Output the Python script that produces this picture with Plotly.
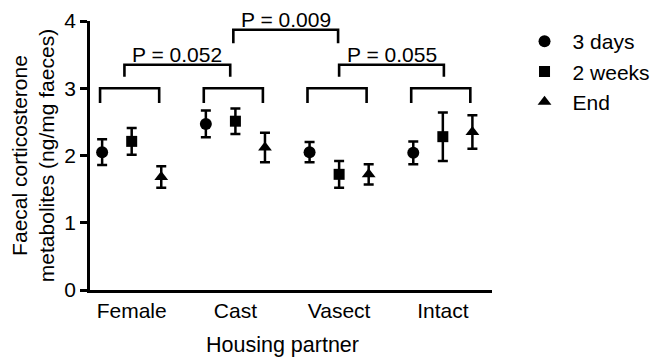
import plotly.graph_objects as go

# Housing partner groups and sampling time points
groups = ["Female", "Cast", "Vasect", "Intact"]
timepoints = ["3 days", "2 weeks", "End"]
symbols = ["circle", "square", "triangle-up"]
marker_sizes = [12, 11, 12]

# Mean faecal corticosterone metabolites (ng/mg faeces) per group, per time point
means = {
    "3 days":  [2.05, 2.47, 2.05, 2.04],
    "2 weeks": [2.21, 2.51, 1.72, 2.28],
    "End":     [1.68, 2.12, 1.72, 2.35],
}
# Error bar half-lengths (SEM)
errors = {
    "3 days":  [0.19, 0.20, 0.15, 0.17],
    "2 weeks": [0.20, 0.19, 0.20, 0.36],
    "End":     [0.16, 0.22, 0.15, 0.25],
}

# Comparisons between groups: (left group, right group, P label)
comparisons = [
    ("Female", "Cast", "P = 0.052"),
    ("Cast", "Vasect", "P = 0.009"),
    ("Vasect", "Intact", "P = 0.055"),
]

group_pos = {g: i + 1 for i, g in enumerate(groups)}
offset = 0.285          # horizontal spread of time points within a group
lw = 2.6
font_family = "Liberation Sans, Arial, sans-serif"
fs = 21

fig = go.Figure()

for k, (tp, sym, ms) in enumerate(zip(timepoints, symbols, marker_sizes)):
    xs = [group_pos[g] + (k - 1) * offset for g in groups]
    fig.add_trace(go.Scatter(
        x=xs, y=means[tp], mode="markers", name=tp,
        marker=dict(symbol=sym, size=ms, color="black"),
        error_y=dict(type="data", array=errors[tp], visible=True,
                     color="black", thickness=2.5, width=5),
        cliponaxis=False,
    ))

shapes = []
annotations = []

def bracket(x0, x1, top, bottom):
    return dict(type="path", xref="x", yref="y",
                path=f"M {x0},{bottom} L {x0},{top} L {x1},{top} L {x1},{bottom}",
                line=dict(color="black", width=lw))

# Per-group brackets spanning the three time points
for g in groups:
    c = group_pos[g]
    shapes.append(bracket(c - offset - 0.02, c + offset - 0.02, 3.0, 2.78))

# Between-group comparison brackets
levels = {"P = 0.052": (3.35, 3.17, -0.07, -0.05),
          "P = 0.009": (3.87, 3.67, -0.02, -0.01),
          "P = 0.055": (3.35, 3.17, 0.0, 0.01)}
for a, b, label in comparisons:
    top, bottom, dx0, dx1 = levels[label]
    x0 = group_pos[a] + dx0
    x1 = group_pos[b] + dx1
    shapes.append(bracket(x0, x1, top, bottom))
    annotations.append(dict(x=(x0 + x1) / 2, y=top, xref="x", yref="y",
                            text=label, showarrow=False, yanchor="bottom",
                            yshift=-3,
                            font=dict(size=fs, color="black", family=font_family)))

annotations.append(dict(x=0.479, y=-0.205, xref="paper", yref="paper",
                        text="Housing partner", showarrow=False,
                        xanchor="center", yanchor="middle",
                        font=dict(size=fs + 0.5, color="black", family=font_family)))

fig.update_layout(
    width=654, height=358,
    margin=dict(l=90, r=162, t=21, b=68, autoexpand=False),
    paper_bgcolor="white", plot_bgcolor="white",
    font=dict(family=font_family, size=fs, color="black"),
    showlegend=True,
    legend=dict(x=1.061, y=1.0, xanchor="left", yanchor="top",
                itemwidth=46, font=dict(size=fs), bgcolor="rgba(0,0,0,0)",
                tracegroupgap=0),
    shapes=shapes,
    annotations=annotations,
)

fig.update_xaxes(
    range=[0.598, 4.474], tickvals=[group_pos[g] for g in groups], ticktext=groups,
    showline=True, linecolor="black", linewidth=lw, ticks="", showgrid=False,
    zeroline=False, tickfont=dict(size=fs),
)
fig.update_yaxes(
    range=[0, 4], tickvals=[0, 1, 2, 3, 4],
    showline=True, linecolor="black", linewidth=lw, ticks="outside",
    ticklen=7, tickwidth=2.5, tickcolor="black", showgrid=False, zeroline=False,
    tickfont=dict(size=fs),
    title=dict(text="Faecal corticosterone<br>metabolites (ng/mg faeces)",
               font=dict(size=fs, family=font_family), standoff=4),
)

fig.write_html("out.html")
